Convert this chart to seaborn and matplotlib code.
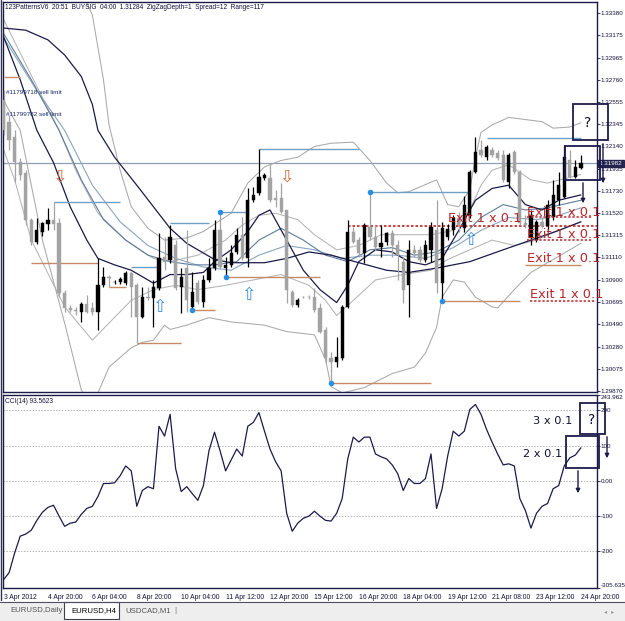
import numpy as np
import pandas as pd
import matplotlib
matplotlib.use("Agg")
import matplotlib.pyplot as plt
import seaborn as sns
from matplotlib.patches import Rectangle, FancyArrowPatch
from matplotlib.lines import Line2D
import matplotlib.transforms as mtrans

# ---------------- data ----------------
opens = [1.32572,1.32367,1.32228,1.31996,1.31894,1.31457,1.31253,1.31346,1.31420,1.31457,
         1.31429,1.30779,1.30639,1.30621,1.30602,1.30677,1.30639,1.30602,1.30853,1.30928,
         1.30881,1.30881,1.30872,1.30965,1.30853,1.30555,1.30742,1.30732,1.30825,1.31113,
         1.31086,1.31225,1.30834,1.31011,1.30649,1.30872,1.30695,1.30900,1.31011,1.31364,
         1.31011,1.31039,1.31160,1.31318,1.31104,1.31643,1.31708,1.31847,1.31847,1.31662,
         1.31662,1.31550,1.30788,1.30667,1.30742,1.30742,1.30742,1.30639,1.30435,1.30174,
         1.30137,1.30174,1.30649,1.31346,1.31271,1.31150,1.31392,1.31299,1.31206,1.31253,
         1.31336,1.31225,1.31067,1.30853,1.31178,1.31178,1.31086,1.31178,1.31364,1.30872,
         1.31299,1.31364,1.31476,1.31383,1.31503,1.31903,1.32107,1.32042,1.32107,1.32079,
         1.32061,1.31810,1.32089,1.31903,1.31429,1.31290,1.31271,1.31439,1.31401,1.31485,
         1.31643,1.31671,1.32015,1.31857,1.31940]
highs = [1.32665,1.32432,1.32293,1.32033,1.31922,1.31476,1.31476,1.31439,1.31568,1.31624,
         1.31476,1.30807,1.30667,1.30649,1.30695,1.30760,1.30695,1.31104,1.31021,1.30946,
         1.30900,1.30928,1.30984,1.30974,1.30872,1.30834,1.30834,1.30900,1.31336,1.31299,
         1.31411,1.31271,1.31011,1.31364,1.30974,1.30900,1.30946,1.31104,1.31457,1.31531,
         1.31113,1.31225,1.31383,1.31485,1.31754,1.31764,1.32117,1.31894,1.31987,1.31736,
         1.31801,1.31550,1.30807,1.30732,1.30751,1.30760,1.30825,1.30686,1.30462,1.30230,
         1.30370,1.30667,1.31457,1.31392,1.31299,1.31429,1.31717,1.31411,1.31411,1.31346,
         1.31364,1.31271,1.31113,1.31271,1.31225,1.31216,1.31271,1.31439,1.31643,1.31439,
         1.31420,1.31503,1.31531,1.31680,1.31922,1.32228,1.32200,1.32154,1.32135,1.32107,
         1.32107,1.32079,1.32107,1.31922,1.31503,1.31550,1.31457,1.31476,1.31643,1.31829,
         1.31903,1.32154,1.32107,1.32015,1.32061]
lows = [1.32247,1.32107,1.31810,1.31829,1.31411,1.31225,1.31234,1.31309,1.31364,1.31364,
        1.30742,1.30602,1.30602,1.30574,1.30509,1.30593,1.30574,1.30435,1.30834,1.30834,
        1.30862,1.30862,1.30853,1.30555,1.30314,1.30546,1.30714,1.30462,1.30807,1.30993,
        1.31058,1.30807,1.30593,1.30602,1.30621,1.30677,1.30649,1.30881,1.30993,1.31011,
        1.30928,1.31021,1.31141,1.31086,1.31021,1.31624,1.31689,1.31829,1.31624,1.31578,
        1.31522,1.30686,1.30649,1.30649,1.30732,1.30723,1.30602,1.30407,1.30128,1.29943,
        1.30091,1.30156,1.30639,1.31243,1.31113,1.31058,1.31271,1.31178,1.31113,1.31225,
        1.31113,1.30900,1.30686,1.30555,1.31113,1.31067,1.31067,1.31067,1.30779,1.30705,
        1.31271,1.31318,1.31346,1.31346,1.31476,1.31894,1.32042,1.32015,1.32042,1.32015,
        1.31810,1.31754,1.31885,1.31411,1.31383,1.31225,1.31253,1.31383,1.31364,1.31457,
        1.31596,1.31662,1.31847,1.31847,1.31931]
closes = [1.32293,1.32200,1.31996,1.31875,1.31457,1.31253,1.31364,1.31429,1.31457,1.31420,
          1.30779,1.30639,1.30621,1.30611,1.30677,1.30602,1.30602,1.30853,1.30928,1.30918,
          1.30884,1.30909,1.30965,1.30834,1.30555,1.30742,1.30732,1.30834,1.31104,1.31067,
          1.31299,1.30825,1.30928,1.30714,1.30788,1.30695,1.30900,1.31011,1.31364,1.31021,
          1.31039,1.31150,1.31318,1.31104,1.31643,1.31689,1.31857,1.31875,1.31643,1.31643,
          1.31531,1.30807,1.30667,1.30714,1.30740,1.30738,1.30621,1.30416,1.30174,1.30137,
          1.30184,1.30649,1.31346,1.31253,1.31150,1.31411,1.31299,1.31206,1.31243,1.31336,
          1.31225,1.31132,1.30807,1.31178,1.31150,1.31086,1.31225,1.31392,1.30872,1.31383,
          1.31374,1.31476,1.31411,1.31596,1.31903,1.32089,1.32061,1.32135,1.32061,1.32033,
          1.31829,1.32061,1.31903,1.31429,1.31411,1.31503,1.31439,1.31401,1.31596,1.31689,
          1.31782,1.32042,1.31857,1.31950,1.31982]

cci = [-282,-262,-206,-158,-152,-141,-113,-90,-76,-70,
       -101,-130,-121,-118,-96,-79,-73,-45,-8,-8,
       -6,14,42,28,-73,-28,-17,-23,155,127,
       189,34,-31,-17,-37,-56,-14,85,138,85,
       28,59,90,70,155,166,194,141,90,54,
       28,-93,-144,-121,-107,-101,-87,-101,-113,-115,
       -93,-51,62,124,110,124,124,76,68,62,
       45,20,-28,6,-8,-8,6,76,-79,-23,
       70,141,127,141,203,217,189,146,110,76,
       45,48,42,-51,-85,-135,-93,-73,-65,-23,
       -14,42,65,73,93.5623]

# indicator lines (bar index, price)
slow_ma_bars = [0,4,8,11,14,16,17,20,24,27,30,33,38,41,47,51,55,59,64,69,73,78,84,90,95,100,104]
slow_ma = [1.3324,1.3322,1.3313,1.3299,1.3279,1.3253,1.3229,1.3204,1.3178,1.3158,1.3138,1.3124,1.3109,
           1.3106,1.3106,1.3110,1.3116,1.3113,1.3106,1.3099,1.3097,1.3101,1.3107,1.3118,1.3127,1.3136,1.3144]
fast_ma_bars = [0,3,6,9,12,15,17,20,23,27,30,33,36,38,41,44,46,48,51,54,57,60,62,64,67,70,73,76,79,82,85,88,91,94,97,100,104]
fast_ma = [1.3316,1.3276,1.3229,1.3199,1.3158,1.3127,1.3110,1.3104,1.3099,1.3087,1.3095,1.3095,1.3097,
           1.3107,1.3118,1.3135,1.3150,1.3155,1.3127,1.3099,1.3081,1.3069,1.3085,1.3107,1.3118,1.3116,
           1.3107,1.3104,1.3110,1.3136,1.3164,1.3175,1.3178,1.3160,1.3155,1.3164,1.3169]
ma3_bars = [0,5,10,14,18,22,26,30,34,38,42,46,50,54,58,62,66,70,74,78,82,86,90,94,98,104]
ma3 = [1.3319,1.3276,1.3229,1.3183,1.3146,1.3127,1.3113,1.3107,1.3104,1.3104,1.3107,1.3127,1.3138,
       1.3127,1.3113,1.3107,1.3118,1.3120,1.3113,1.3116,1.3127,1.3148,1.3160,1.3155,1.3157,1.3164]
ma4_bars = [0,6,11,16,21,26,31,36,41,46,51,56,61,66,71,76,81,86,91,96,100,104]
ma4 = [1.3315,1.3266,1.3229,1.3178,1.3144,1.3122,1.3110,1.3102,1.3099,1.3113,1.3122,1.3118,1.3110,
       1.3113,1.3113,1.3110,1.3120,1.3136,1.3148,1.3146,1.3150,1.3157]
band_up_bars = [14,16,18,19,21,23,26,29,33,36,41,44,47,50,53,56,59,63,66,69,71,73,78,80,82,84,85,86,88,91,97,99,102,104]
band_up = [1.3359,1.3336,1.3276,1.3234,1.3192,1.3158,1.3138,1.3127,1.3129,1.3135,1.3152,1.3180,1.3195,
           1.3201,1.3204,1.3214,1.3217,1.3218,1.3201,1.3180,1.3171,1.3172,1.3183,1.3160,1.3158,1.3174,
           1.3204,1.3227,1.3234,1.3241,1.3237,1.3231,1.3232,1.3236]
band_lo_bars = [0,3,7,11,14,15,17,19,23,25,27,29,30,33,37,41,47,51,56,58,59,61,65,70,74,76,78,79,81,83,85,88,89,92,95,98,104]
band_lo = [1.3257,1.3229,1.3127,1.3050,1.2988,1.2978,1.2985,1.3009,1.3027,1.3032,1.3034,1.3048,1.3044,
           1.3048,1.3055,1.3051,1.3048,1.3042,1.3039,1.3016,1.2991,1.2985,1.2990,1.3003,1.3009,1.3022,
           1.3046,1.3074,1.3090,1.3088,1.3074,1.3065,1.3064,1.3081,1.3097,1.3106,1.3124]
inner_up_bars = [0,5,10,13,17,22,27,30,35,40,43,46,49,53,56,60,64,68,72,77,81,84,86,88,91,95,98,104]
inner_up = [1.3332,1.3280,1.3229,1.3192,1.3152,1.3127,1.3110,1.3107,1.3113,1.3127,1.3141,1.3150,1.3152,
            1.3146,1.3132,1.3118,1.3122,1.3132,1.3132,1.3132,1.3136,1.3155,1.3178,1.3192,1.3197,1.3183,
            1.3180,1.3188]
inner_lo_bars = [0,2,5,11,16,19,23,27,31,35,40,45,50,55,58,60,63,67,72,77,80,84,88,92,96,100,104]
inner_lo = [1.3211,1.3183,1.3127,1.3065,1.3034,1.3050,1.3071,1.3081,1.3085,1.3081,1.3085,1.3090,1.3095,
            1.3085,1.3071,1.3057,1.3071,1.3090,1.3095,1.3099,1.3109,1.3118,1.3127,1.3122,1.3127,1.3136,1.3144]

# pattern levels (start bar, end bar, price)
blue_levels = [(9,21,1.31624),(23,28,1.31021),(30,37,1.31429),(39,44,1.31531),
               (46,64,1.32117),(66,84,1.31717),(87,104,1.32219)]
orange_levels = [(0,3,1.32785),(5,17,1.31058),(19,22,1.30834),(24,32,1.30314),(34,38,1.30621),
                 (40,57,1.30928),(59,77,1.29943),(79,93,1.30705),(94,104,1.31039)]
dot_bars = [34,39,40,59,66,79]
dot_prices = [1.30621,1.31531,1.30928,1.29943,1.31717,1.30705]
up_arrow_bars = [28,44,84]
up_arrow_prices = [1.30649,1.30760,1.31271]
down_arrow_bars = [10,51]
down_arrow_prices = [1.31857,1.31857]
exit_level = 1.31401
current_price = 1.31982

price_ticks = [1.33380,1.33175,1.32965,1.32760,1.32555,1.32345,1.32140,1.31935,1.31730,1.31520,
               1.31315,1.31110,1.30900,1.30695,1.30490,1.30280,1.30075,1.29870]
cci_ticks = [243.962,200,100,0,-100,-200,-305.635]
cci_tick_labels = ["243.962","200","100","0.00","-100","-200","-305.635"]
date_labels = ["3 Apr 2012","4 Apr 20:00","6 Apr 04:00","8 Apr 20:00","10 Apr 04:00","11 Apr 12:00",
               "12 Apr 20:00","15 Apr 12:00","16 Apr 20:00","18 Apr 04:00","19 Apr 12:00",
               "21 Apr 08:00","23 Apr 12:00","24 Apr 20:00"]
header = "123PatternsV6  20:51  BUYSIG  04:00  1.31284  ZigZagDepth=1  Spread=12  Range=117"
tabs = ["EURUSD,Daily", "EURUSD,H4", "USDCAD,M1"]

# ---------------- style ----------------
sns.set_style("white")
plt.rcParams['font.family'] = ['Liberation Sans', 'DejaVu Sans']
NAVY = "#1b1b4b"
GREY_C = "#a3a3a3"
TXT = "#10103a"
LBL = 4.5
W, H = 625, 621
fig = plt.figure(figsize=(W / 100, H / 100), dpi=100)
fig.patch.set_facecolor("white")

def fx(px):
    return px / W

def fy(py):
    return 1 - py / H

ax = fig.add_axes([fx(3), fy(392), fx(597) - fx(3), fy(2) - fy(392)])
axc = fig.add_axes([fx(3), fy(588), fx(597) - fx(3), fy(395) - fy(588)])

n = len(closes)
bars = np.arange(n)
df = pd.DataFrame({"bar": bars, "open": opens, "high": highs, "low": lows, "close": closes, "cci": cci})
df["bull"] = df["close"] >= df["open"]
df["color"] = np.where(df["bull"], "#000000", GREY_C)

XMIN, XMAX = -0.1, 106.9

# indicator lines
line_specs = [
    (band_up_bars, band_up, "#a9a9a9", 0.75),
    (band_lo_bars, band_lo, "#a9a9a9", 0.75),
    (inner_up_bars, inner_up, "#b4b4b4", 0.75),
    (inner_lo_bars, inner_lo, "#b4b4b4", 0.75),
    (ma4_bars, ma4, "#8aa5bd", 0.8),
    (ma3_bars, ma3, "#5d7d9c", 0.8),
    (slow_ma_bars, slow_ma, NAVY, 0.9),
    (fast_ma_bars, fast_ma, NAVY, 0.9),
]
for xb, yv, col, lw in line_specs:
    sns.lineplot(x=xb, y=yv, ax=ax, color=col, lw=lw, sort=False, estimator=None, zorder=2)

# current price line
ax.axhline(current_price, color="#8e9fb3", lw=0.9, zorder=1)

# pattern levels
for s, e, p in blue_levels:
    ax.hlines(p, s, e, color="#6f9fc6", lw=1.0, zorder=3)
for s, e, p in orange_levels:
    ax.hlines(p, s, e, color="#c98a63", lw=1.0, zorder=3)
ax.hlines(exit_level, 62, XMAX, color="#c81e1e", lw=1.2, linestyles=(0, (1.5, 1.2)), zorder=3)

# candles
for _, r in df.iterrows():
    ax.vlines(r["bar"], r["low"], r["high"], color=r["color"], lw=0.9, zorder=4)
body_bottom = df[["open", "close"]].min(axis=1)
body_h = (df["close"] - df["open"]).abs().clip(lower=0.00004)
ax.bar(df["bar"], body_h, bottom=body_bottom, width=0.58, color=df["color"],
       edgecolor=df["color"], linewidth=0.3, zorder=5)

# dots & arrows
ax.scatter(dot_bars, dot_prices, s=16, color="#2a8ee6", zorder=6, linewidths=0)
for b, p in zip(up_arrow_bars, up_arrow_prices):
    ax.text(b, p, "\u21e7", color="#3b8fe0", fontsize=12.5, ha="center", va="center",
            family="DejaVu Sans", zorder=6)
for b, p in zip(down_arrow_bars, down_arrow_prices):
    ax.text(b, p, "\u21e9", color="#d2693a", fontsize=12.5, ha="center", va="center",
            family="DejaVu Sans", zorder=6)

ax.set_xlim(XMIN, XMAX)
ax.set_ylim(1.29859, 1.33482)
ax.set_xticks([])
ax.yaxis.tick_right()
ax.set_yticks(price_ticks)
ax.set_yticklabels([f"{t:.5f}" for t in price_ticks])
ax.tick_params(axis="y", labelsize=LBL, length=2, width=0.6, pad=0.8, colors=NAVY, labelcolor=TXT)
ax.set_ylabel("")
ax.set_xlabel("")
for sp in ax.spines.values():
    sp.set_color(NAVY)
    sp.set_linewidth(1.0)

# current price label
bt = mtrans.blended_transform_factory(ax.transAxes, ax.transData)
ax.text(1.0045, current_price, "1.31982", transform=bt, fontsize=LBL, color="white", va="center",
        ha="left", bbox=dict(boxstyle="square,pad=0.2", fc="#23234e", ec="#23234e"), zorder=7, clip_on=False)

# header & order labels
ax.text(0.004, 0.996, header, transform=ax.transAxes, fontsize=4.7, color=TXT, va="top", ha="left")
fig.text(fx(6), fy(93), "#11799718 sell limit", fontsize=4.6, color="#1d2a6a", va="center")
fig.text(fx(6), fy(115), "#11799782 sell limit", fontsize=4.6, color="#1d2a6a", va="center")

# exit annotations
RED = "#b8262a"
for x0, yc in [(448, 219), (527, 212), (527, 234), (527, 258), (530, 295)]:
    fig.text(fx(x0), fy(yc), "Exit 1 x 0.1", fontsize=9.3, color=RED, va="center", ha="left",
             family="DejaVu Sans", zorder=8)
for x0, x1, yy, col in [(527, 593, 217, RED), (527, 593, 240, RED), (530, 595, 301, RED)]:
    fig.add_artist(Line2D([fx(x0), fx(x1)], [fy(yy), fy(yy)], transform=fig.transFigure,
                          color=col, lw=1.1, ls=(0, (1.5, 1.2)), zorder=8))

# ---------------- CCI panel ----------------
for lvl in [200, 100, 0, -100, -200]:
    axc.axhline(lvl, color="#b5b5b5", lw=0.7, ls=(0, (1.5, 1.5)), zorder=1)
sns.lineplot(data=df, x="bar", y="cci", ax=axc, color=NAVY, lw=0.9, estimator=None, zorder=3)
axc.set_xlim(XMIN, XMAX)
axc.set_ylim(-305.635, 243.962)
axc.yaxis.tick_right()
axc.set_yticks(cci_ticks)
axc.set_yticklabels(cci_tick_labels)
axc.tick_params(axis="y", labelsize=LBL, length=2, width=0.6, pad=0.8, colors=NAVY, labelcolor=TXT)
tl = axc.get_yticklabels()
tl[0].set_va("top")
tl[-1].set_va("bottom")
axc.set_xticks(np.arange(0, n, 8))
axc.set_xticklabels(date_labels, ha="left")
axc.tick_params(axis="x", labelsize=4.9, length=2.5, width=0.6, pad=1.5, colors=NAVY, labelcolor=TXT)
axc.set_xlabel("")
axc.set_ylabel("")
for sp in axc.spines.values():
    sp.set_color(NAVY)
    sp.set_linewidth(1.0)
axc.text(0.004, 0.985, "CCI(14) 93.5623", transform=axc.transAxes, fontsize=4.7, color=TXT,
         va="top", ha="left")

# ---------------- boxes, arrows, notes ----------------
def box(x0, y0, x1, y1):
    fig.add_artist(Rectangle((fx(x0), fy(y1)), fx(x1) - fx(x0), fy(y0) - fy(y1),
                             transform=fig.transFigure, fill=False, edgecolor=NAVY, lw=1.3, zorder=10))

def arrow(x, y0, y1):
    fig.add_artist(FancyArrowPatch((fx(x), fy(y0)), (fx(x), fy(y1)), transform=fig.transFigure,
                                   arrowstyle="-|>", mutation_scale=6, color=NAVY, lw=1.0, zorder=10))

box(573, 104, 608, 140)
box(565, 146, 600, 180)
arrow(603, 141, 186)
arrow(583, 180, 206)
fig.text(fx(588), fy(123), "?", fontsize=10, color="#111133", ha="center", va="center", family="DejaVu Sans")

box(580, 403, 605, 434)
box(566, 436, 599, 468)
arrow(607, 434, 461)
arrow(578, 468, 496)
fig.text(fx(592), fy(420), "?", fontsize=10, color="#111133", ha="center", va="center", family="DejaVu Sans")
fig.text(fx(533), fy(421), "3 x 0.1", fontsize=8.2, color="#111133", ha="left", va="center", family="DejaVu Sans")
fig.text(fx(523), fy(454), "2 x 0.1", fontsize=8.2, color="#111133", ha="left", va="center", family="DejaVu Sans")

# ---------------- tab bar ----------------
fig.add_artist(Rectangle((0, 0), 1, fy(602), transform=fig.transFigure, color="#eeeeee", zorder=0))
fig.add_artist(Line2D([0, 1], [fy(602), fy(602)], transform=fig.transFigure, color="#505060", lw=0.8))
fig.add_artist(Rectangle((fx(64), fy(619)), fx(55), fy(602) - fy(619), transform=fig.transFigure,
                         facecolor="white", edgecolor="#404050", lw=0.8, zorder=1))
fig.text(fx(10), fy(611), tabs[0], fontsize=5.6, color="#555555", va="center")
fig.text(fx(71), fy(611), tabs[1], fontsize=5.6, color="#000000", va="center")
fig.text(fx(125), fy(611), tabs[2], fontsize=5.6, color="#555555", va="center")
fig.text(fx(174), fy(611), "|", fontsize=5.6, color="#777777", va="center")
fig.text(fx(604), fy(612), "\u25c2  \u25b8", fontsize=4.5, color="#999999", va="center", family="DejaVu Sans")
fig.add_artist(Line2D([fx(1), fx(1)], [fy(600), 1], transform=fig.transFigure, color="#303050", lw=1.0))

fig.savefig("out.png", dpi=100)
